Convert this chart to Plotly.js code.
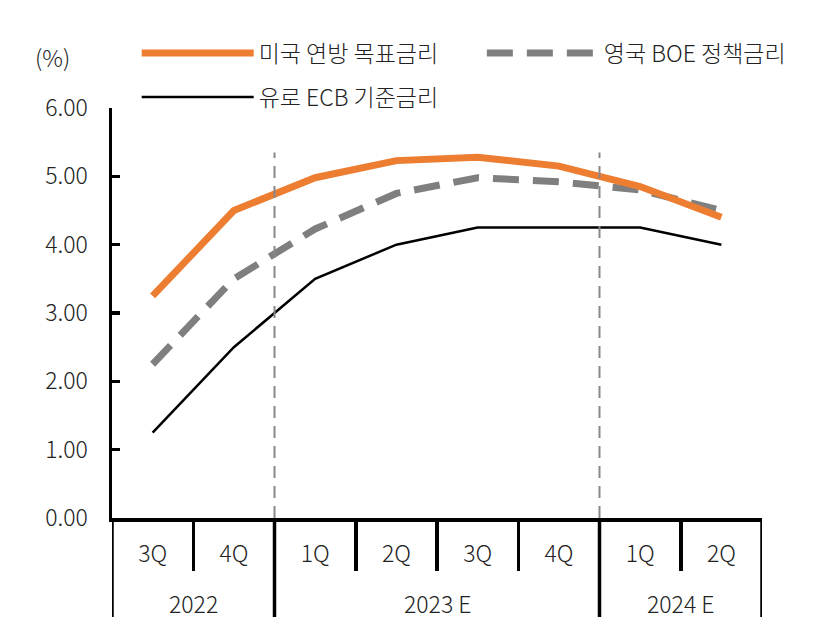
<!DOCTYPE html>
<html><head><meta charset="utf-8">
<script src="https://cdn.plot.ly/plotly-3.0.1.min.js"></script>
<style>html,body{margin:0;padding:0;background:#fff}#c{width:819px;height:629px}</style>
</head><body><div id="c"></div>
<script>
const years = ['2022','2022','2023 E','2023 E','2023 E','2023 E','2024 E','2024 E'];
const quarters = ['3Q','4Q','1Q','2Q','3Q','4Q','1Q','2Q'];
const usRate = [3.25, 4.50, 4.98, 5.23, 5.28, 5.15, 4.85, 4.40];
const ukRate = [2.25, 3.50, 4.23, 4.75, 4.98, 4.92, 4.80, 4.50];
const euRate = [1.25, 2.50, 3.50, 4.00, 4.25, 4.25, 4.25, 4.00];
const names = ['미국 연방 목표금리', '영국 BOE 정책금리', '유로 ECB 기준금리'];
const yTicks = [0, 1, 2, 3, 4, 5, 6];

const FONT = '"Noto Sans CJK KR", "Noto Sans", sans-serif';
const FS = 23;
const TXT = '#222';
const xIdx = quarters.map((_, i) => i);

// group boundaries derived from the years array
const yearGroups = [];
years.forEach((y, i) => {
  const g = yearGroups[yearGroups.length - 1];
  if (g && g.name === y) g.end = i; else yearGroups.push({name: y, start: i, end: i});
});
const dividerPos = [-0.5].concat(yearGroups.map(g => g.end + 0.5));
const innerTickPos = [];
for (let i = 0; i < quarters.length - 1; i++) {
  if (years[i] === years[i + 1]) innerTickPos.push(i + 0.5);
}
const sepLinePos = dividerPos.slice(1, -1);

const traces = [
  {x: xIdx, y: euRate, name: names[2], mode: 'lines', line: {color: '#000000', width: 2.5}, legend: 'legend2'},
  {x: xIdx, y: ukRate, name: names[1], mode: 'lines', line: {color: '#7F7F7F', width: 7, dash: '26px,14px'}, legend: 'legend3'},
  {x: xIdx, y: usRate, name: names[0], mode: 'lines', line: {color: '#ED7D31', width: 7}, legend: 'legend'},
  {x: innerTickPos, y: innerTickPos.map(() => null), xaxis: 'x2', yaxis: 'y', showlegend: false, mode: 'lines', hoverinfo: 'skip'}
];

const legBase = {orientation: 'h', xanchor: 'left', yanchor: 'middle', itemwidth: 112,
  font: {size: FS, color: TXT, weight: 300}, bgcolor: 'rgba(0,0,0,0)'};

const shapes = [];
dividerPos.forEach(p => shapes.push({type: 'line', xref: 'x', yref: 'paper', x0: p, x1: p, y0: 0, y1: -0.2415,
  line: {color: '#000', width: 3.5}}));
sepLinePos.forEach(p => shapes.push({type: 'line', xref: 'x', yref: 'y', x0: p, x1: p, y0: 0, y1: 5.35,
  line: {color: '#888888', width: 2, dash: '12px,8px'}}));

const annotations = [
  {text: '(%)', xref: 'paper', yref: 'paper', x: -0.091, y: 1.124, xanchor: 'center', yanchor: 'middle', showarrow: false, font: {size: FS, color: TXT, weight: 300}}
];
yearGroups.forEach(g => annotations.push({text: g.name, xref: 'x', yref: 'paper', x: (g.start + g.end) / 2, y: -0.2073,
  xanchor: 'center', yanchor: 'middle', showarrow: false, font: {size: FS, color: TXT, weight: 300}}));

const layout = {
  width: 819, height: 629,
  margin: {l: 112, r: 57, t: 108, b: 111},
  paper_bgcolor: '#fff', plot_bgcolor: 'rgba(0,0,0,0)',
  font: {family: FONT, size: FS, color: TXT, weight: 300},
  showlegend: true,
  legend: Object.assign({}, legBase, {x: 0.038, y: 1.134}),
  legend3: Object.assign({}, legBase, {x: 0.569, y: 1.134}),
  legend2: Object.assign({}, legBase, {x: 0.038, y: 1.027}),
  xaxis: {range: [-0.5, quarters.length - 0.5], tickvals: xIdx, ticktext: quarters, showline: true, linecolor: '#000', linewidth: 3.5,
    ticks: '', showgrid: false, zeroline: false, ticklabelstandoff: 13, tickfont: {size: FS, color: TXT, weight: 300}},
  xaxis2: {overlaying: 'x', anchor: 'y', side: 'bottom', range: [-0.5, quarters.length - 0.5], showline: false,
    tickvals: innerTickPos, ticks: 'outside', ticklen: 52, tickwidth: 3.5, tickcolor: '#000',
    showgrid: false, zeroline: false, showticklabels: false},
  yaxis: {range: [0, 6], tickvals: yTicks, tickformat: '.2f', ticks: 'inside', ticklen: 8, tickwidth: 3.5, tickcolor: '#000',
    showline: true, linecolor: '#000', linewidth: 3.5, showgrid: false, zeroline: false, tickfont: {size: FS, color: TXT, weight: 300}, ticklabelstandoff: 16},
  shapes: shapes,
  annotations: annotations
};
Plotly.newPlot('c', traces, layout, {displayModeBar: false, staticPlot: true});
</script></body></html>
